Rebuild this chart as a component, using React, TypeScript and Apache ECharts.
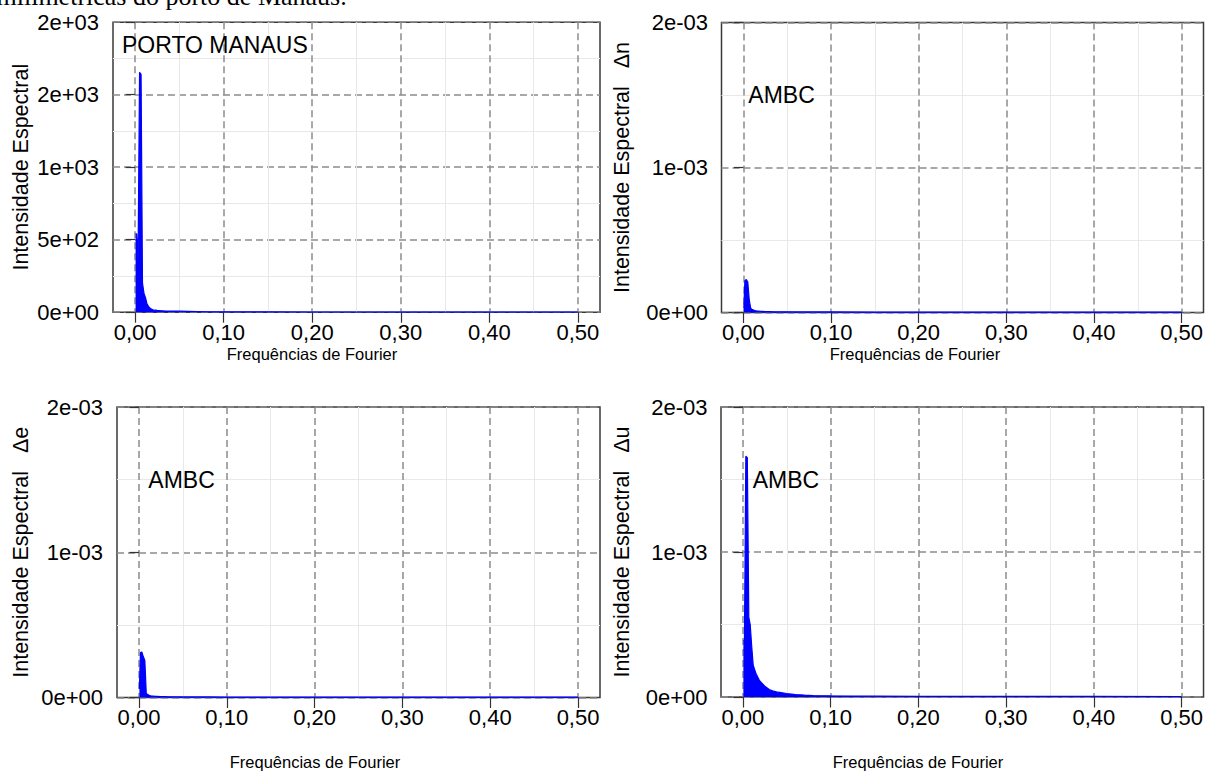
import React, { useEffect, useRef } from "react";
import * as echarts from "echarts";

// ---------- data ----------
const freq = [0.0005, 0.0017, 0.0033, 0.005, 0.0067, 0.0083, 0.01, 0.0117, 0.0133, 0.015, 0.0167, 0.0183, 0.02, 0.025, 0.03, 0.035, 0.04, 0.05, 0.06, 0.07, 0.08, 0.1, 0.15, 0.2, 0.3, 0.4, 0.5];

const portoManaus = [540, 540, 360, 1655, 1640, 200, 130, 100, 60, 40, 30, 22, 16, 12, 10, 8, 8, 7, 6, 5, 3, 2, 2, 1.5, 1, 1, 1];
const ambcN = [0.00003, 0.00022, 0.000228, 0.00021, 0.000085, 0.00003, 0.00002, 0.000016, 0.000013, 0.000011, 0.00001, 0.000009, 0.000008, 0.000007, 0.000006, 0.000005, 0.000005, 0.000005, 0.000004, 0.000004, 0.000004, 0.000004, 0.000003, 0.000003, 0.000003, 0.000003, 0.000003];
const ambcE = [0.00006, 0.00031, 0.000313, 0.00028, 0.000255, 0.00003, 0.00002, 0.000015, 0.000012, 0.00001, 0.000009, 0.000008, 0.000008, 0.000007, 0.000006, 0.000005, 0.000005, 0.000004, 0.000004, 0.000004, 0.000004, 0.000003, 0.000003, 0.000003, 0.000003, 0.000003, 0.000003];
const ambcU = [0.00039, 0.00039, 0.00166, 0.00165, 0.00055, 0.0005, 0.00035, 0.00022, 0.00019, 0.00016, 0.00014, 0.00012, 0.000105, 0.000075, 0.000052, 0.00004, 0.000033, 0.000024, 0.000017, 0.000013, 0.00001, 0.000008, 0.000006, 0.000005, 0.000004, 0.000004, 0.000003];

const xTicks = [0, 0.1, 0.2, 0.3, 0.4, 0.5];
const xTickLabels = ["0,00", "0,10", "0,20", "0,30", "0,40", "0,50"];
const xMinorTicks = [0.05, 0.15, 0.25, 0.35, 0.45];

const yLabelsPorto = ["0e+00", "5e+02", "1e+03", "2e+03", "2e+03"];
const yLabelsAmbc = ["0e+00", "1e-03", "2e-03"];

const caption = "milimétricas do porto de Manaus.";
const xTitle = "Frequências de Fourier";
const yTitles = ["Intensidade Espectral", "Intensidade Espectral   Δn", "Intensidade Espectral   Δe", "Intensidade Espectral   Δu"];
const panelLabels = ["PORTO MANAUS", "AMBC", "AMBC", "AMBC"];
const seriesValues = [portoManaus, ambcN, ambcE, ambcU];

// ---------- layout ----------
const panels = [
  { left: 113, top: 22.2, width: 487, height: 290, yMax: 2000, yInterval: 500, yLabels: yLabelsPorto, labelX: 122, labelY: 44.5, yTitleX: 20.8, xTitleX: 312, xTitleY: 354, yLabelMargin: 14 },
  { left: 721.5, top: 22.5, width: 483.5, height: 290, yMax: 0.002, yInterval: 0.001, yLabels: yLabelsAmbc, labelX: 748.3, labelY: 95, yTitleX: 622, xTitleX: 915, xTitleY: 354, yLabelMargin: 13.5 },
  { left: 117, top: 407, width: 483, height: 290.5, yMax: 0.002, yInterval: 0.001, yLabels: yLabelsAmbc, labelX: 148.3, labelY: 480, yTitleX: 20.5, xTitleX: 315, xTitleY: 762, yLabelMargin: 14 },
  { left: 721, top: 407, width: 484, height: 290, yMax: 0.002, yInterval: 0.001, yLabels: yLabelsAmbc, labelX: 752.7, labelY: 480, yTitleX: 622, xTitleX: 918, xTitleY: 762, yLabelMargin: 13.5 },
];

const SANS = "Liberation Sans";
const majorGrid = { color: "#8c8c8c", width: 1.5, type: [7, 4] as any };
const minorGrid = { color: "#e8e8e8", width: 1 };

function buildOption() {
  const grid = panels.map((p) => ({
    left: p.left, top: p.top, width: p.width, height: p.height,
    show: true, borderColor: "#3a3a3a", borderWidth: 1.5, backgroundColor: "transparent",
  }));

  const minorX = panels.map((_, i) => ({
    gridIndex: i, type: "value", position: "top", min: -0.025, max: 0.525,
    axisLine: { show: false },
    axisTick: { show: false, customValues: xMinorTicks },
    axisLabel: { show: false, customValues: xMinorTicks },
    splitLine: { show: true, lineStyle: minorGrid },
  }));

  const majorX = panels.map((_, i) => ({
    gridIndex: i, type: "value", position: "bottom", min: -0.025, max: 0.525,
    axisLine: { show: false },
    axisTick: { show: true, length: 10.5, customValues: xTicks, lineStyle: { color: "#333", width: 1.2 } },
    axisLabel: {
      customValues: xTicks, margin: 9, fontSize: 22, fontFamily: SANS, color: "#000",
      formatter: (v: number) => {
        const k = xTicks.findIndex((t) => Math.abs(t - v) < 1e-9);
        return k >= 0 ? xTickLabels[k] : "";
      },
    },
    splitLine: { show: true, lineStyle: majorGrid },
  }));

  const yAxis = panels.map((p, i) => ({
    gridIndex: i, type: "value", position: "left", min: 0, max: p.yMax, interval: p.yInterval,
    axisLine: { show: false },
    axisTick: { show: true, length: 9.5, lineStyle: { color: "#333", width: 1.2 } },
    axisLabel: {
      margin: p.yLabelMargin, fontSize: 22, lineHeight: 20, fontFamily: SANS, color: "#000",
      formatter: (v: number) => p.yLabels[Math.round(v / p.yInterval)] ?? "",
    },
    splitLine: { show: true, lineStyle: majorGrid },
    minorTick: { show: false, splitNumber: 2 },
    minorSplitLine: { show: true, lineStyle: minorGrid },
  }));

  const series = panels.map((_, i) => ({
    type: "line",
    xAxisIndex: panels.length + i,
    yAxisIndex: i,
    data: freq.map((f, k) => [f, seriesValues[i][k]]),
    symbol: "none",
    showSymbol: false,
    lineStyle: { color: "#0000ff", width: 1.2 },
    areaStyle: { color: "#0000ff", opacity: 1 },
    clip: true,
    z: 3,
  }));

  const graphic: any[] = [
    {
      type: "text", x: -3.5, y: -3.5,
      style: { text: caption, fontSize: 26, lineHeight: 16, fontFamily: "Liberation Serif", fill: "#000", verticalAlign: "middle", align: "left" },
    },
  ];
  panels.forEach((p, i) => {
    graphic.push({
      type: "text", x: p.labelX, y: p.labelY, z: 10,
      style: { text: panelLabels[i], fontSize: 23, fontFamily: SANS, fill: "#000", verticalAlign: "middle", align: "left" },
    });
    graphic.push({
      type: "text", x: p.yTitleX, y: p.top + p.height / 2, rotation: Math.PI / 2,
      style: { text: yTitles[i], fontSize: 21.5, fontFamily: SANS, fill: "#000", verticalAlign: "middle", align: "center" },
    });
    graphic.push({
      type: "text", x: p.xTitleX, y: p.xTitleY,
      style: { text: xTitle, fontSize: 16.5, fontFamily: SANS, fill: "#000", verticalAlign: "middle", align: "center" },
    });
  });

  return {
    animation: false,
    backgroundColor: "#ffffff",
    grid,
    xAxis: [...minorX, ...majorX],
    yAxis,
    series,
    graphic,
  };
}

export default function App() {
  const ref = useRef<HTMLDivElement>(null);
  useEffect(() => {
    if (!ref.current) return;
    const chart = echarts.init(ref.current, null, { renderer: "svg" });
    chart.setOption(buildOption() as any);
    return () => chart.dispose();
  }, []);
  return <div ref={ref} style={{ position: "absolute", left: 0, top: 0, width: 1206, height: 771 }} />;
}
